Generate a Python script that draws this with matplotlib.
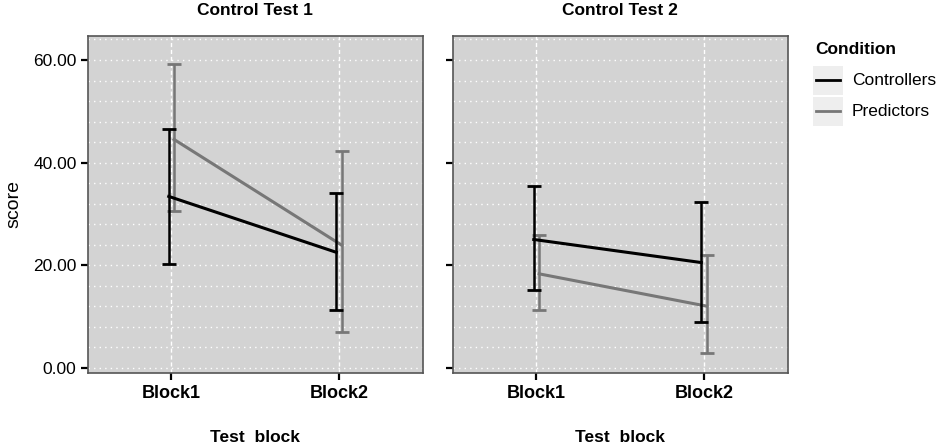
import matplotlib
matplotlib.use("Agg")
import matplotlib.pyplot as plt
from matplotlib.lines import Line2D
from matplotlib.patches import Rectangle
import numpy as np

plt.rcParams['font.family'] = ['Liberation Sans', 'DejaVu Sans']

# ---- data ----
blocks = ['Block1', 'Block2']
panel_titles = ['Control Test 1', 'Control Test 2']
conditions = ['Controllers', 'Predictors']

ct1_ctrl_mean = [33.4, 22.5]
ct1_ctrl_lo = [20.2, 11.2]
ct1_ctrl_hi = [46.5, 34.0]
ct1_pred_mean = [44.5, 23.9]
ct1_pred_lo = [30.6, 6.9]
ct1_pred_hi = [59.2, 42.3]

ct2_ctrl_mean = [25.0, 20.5]
ct2_ctrl_lo = [15.1, 9.0]
ct2_ctrl_hi = [35.4, 32.4]
ct2_pred_mean = [18.3, 12.0]
ct2_pred_lo = [11.2, 2.8]
ct2_pred_hi = [25.9, 22.0]

yticks = [0, 20, 40, 60]

panels = [
    [(ct1_ctrl_mean, ct1_ctrl_lo, ct1_ctrl_hi), (ct1_pred_mean, ct1_pred_lo, ct1_pred_hi)],
    [(ct2_ctrl_mean, ct2_ctrl_lo, ct2_ctrl_hi), (ct2_pred_mean, ct2_pred_lo, ct2_pred_hi)],
]

colors = ['#000000', '#777777']
dodge = [-0.016, 0.016]

W, H = 945, 448
fig = plt.figure(figsize=(W / 100, H / 100), dpi=100)

panel_boxes = [(87.7, 422.7), (452.7, 787.7)]
top_px, bot_px = 35.7, 372.7

for i, (lpx, rpx) in enumerate(panel_boxes):
    ax = fig.add_axes([lpx / W, (H - bot_px) / H, (rpx - lpx) / W, (bot_px - top_px) / H])
    ax.set_facecolor('#d3d3d3')
    ax.set_xlim(0.5, 2.5)
    ax.set_ylim(-0.98, 64.74)
    # grid
    for gy in np.arange(0, 65, 4):
        ax.axhline(gy, color='white', lw=1.0, ls=(0, (1, 3)), zorder=1)
    xpos = np.arange(1, len(blocks) + 1)
    for gx in xpos:
        ax.axvline(gx, color='white', lw=1.0, ls=(0, (3, 2)), zorder=1)
    for j, (m, lo, hi) in enumerate(panels[i]):
        x = xpos + dodge[j]
        m = np.array(m); lo = np.array(lo); hi = np.array(hi)
        ax.errorbar(x, m, yerr=[m - lo, hi - m], color=colors[j], lw=2.2,
                    elinewidth=1.8, capsize=5.0, capthick=2.0, zorder=3 + (1 - j))
    ax.set_xticks(xpos)
    ax.set_xticklabels(blocks, fontsize=13, fontweight='bold')
    ax.set_yticks(yticks)
    if i == 0:
        ax.set_yticklabels([f'{v:.2f}' for v in yticks], fontsize=12.5)
        ax.set_ylabel('score', fontsize=14, labelpad=8)
    else:
        ax.set_yticklabels([])
    ax.tick_params(axis='both', length=5, width=1.6, color='black', pad=3)
    ax.tick_params(axis='x', pad=4)
    for sp in ax.spines.values():
        sp.set_color('#555555')
        sp.set_linewidth(1.2)
    ax.set_title(panel_titles[i], fontsize=12.5, fontweight='bold', pad=15)
    ax.set_xlabel('Test  block', fontsize=12.5, fontweight='bold', labelpad=20)

# legend (drawn manually, ggplot style)
fig.text(815 / W, 1 - 50 / H, 'Condition', fontsize=12.5, fontweight='bold', va='center', ha='left')
key_tops = [66, 97]
for k, cond in enumerate(conditions):
    t = key_tops[k]
    fig.add_artist(Rectangle((813 / W, 1 - (t + 29) / H), 30 / W, 29 / H,
                             transform=fig.transFigure, facecolor='#eeeeee', edgecolor='none'))
    yc = 1 - (t + 14.5) / H
    fig.add_artist(Line2D([816 / W, 840 / W], [yc, yc], transform=fig.transFigure,
                          color=colors[k], lw=2.0))
    fig.text(852 / W, yc, cond, fontsize=12.5, va='center', ha='left')

fig.savefig('out.png', dpi=100)
